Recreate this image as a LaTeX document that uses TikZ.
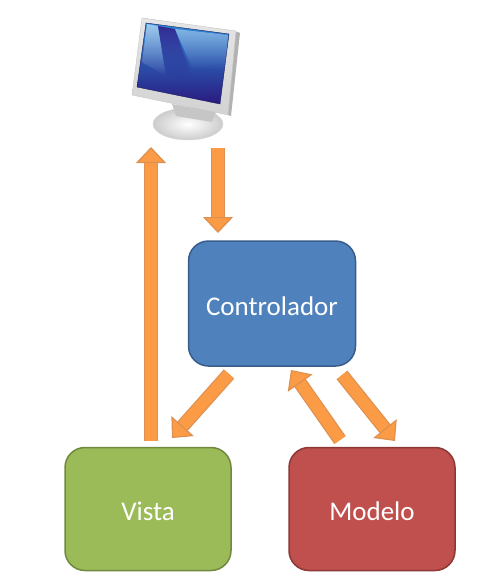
\documentclass[tikz,border=0pt]{standalone}
\usepackage{fontspec}
\setmainfont{Carlito}
\usetikzlibrary{arrows.meta,fadings}
\definecolor{arrowfill}{HTML}{FB9B45}
\definecolor{arrowline}{HTML}{DE9050}
\definecolor{screentop}{HTML}{2C8AD8}
\definecolor{screenmid}{HTML}{0F62B0}
\definecolor{screenlow}{HTML}{2A1A80}
\definecolor{screenrim}{HTML}{19195A}
\definecolor{stripe}{HTML}{35208A}
\begin{document}
\begin{tikzpicture}[
  x=1pt, y=-1pt,
  block/.style={rectangle, draw, line width=1.5pt, rounded corners=20pt, minimum width=166pt, minimum height=123pt, text=white, text height=23pt, text depth=0pt, font=\fontsize{27}{30}\selectfont},
  flow/.style={draw=arrowline, line width=1.2pt, double=arrowfill, double distance=11.5pt, -{Triangle[length=16pt,width=30pt,line width=1.2pt,fill=arrowfill]}}
]
\useasboundingbox (0,0) rectangle (480,587);
\node[block, fill={rgb,255:red,79;green,129;blue,189}, draw={rgb,255:red,56;green,93;blue,138}, minimum width=167pt, minimum height=125pt] (controlador) at (272,303.5) {Controlador};
\node[block, fill={rgb,255:red,155;green,187;blue,89}, draw={rgb,255:red,113;green,137;blue,63}] (vista) at (148,509) {Vista};
\node[block, fill={rgb,255:red,192;green,80;blue,77}, draw={rgb,255:red,140;green,56;blue,54}] (modelo) at (372,509) {Modelo};

% Monitor
\coordinate (monitor) at (151,147);
\shade[inner color=white, outer color=gray!40, draw=gray!30] (188,124) ellipse (35pt and 16pt);
\fill[gray!45] (172,104) -- (216,112) -- (212,122) -- (176,116) -- cycle;
\fill[gray!60] (142,18) -- (238,32) -- (240,33) -- (231,116) -- (228,115) -- cycle;
\shade[shading angle=10, top color=gray!20, bottom color=gray!35, draw=gray!45] (142,18) -- (236,31) -- (228,115) -- (132,95) -- cycle;
\shade[shading angle=8, top color=screentop, middle color=screenmid, bottom color=screenlow, draw=screenrim] (146,23) -- (229,34) -- (220,104) -- (137,87) -- cycle;
\fill[white, opacity=.55, path fading=south] (147,24) -- (158,26) -- (166,76) -- (142,62) -- cycle;
\fill[stripe, opacity=.9, path fading=south] (158,26) -- (175,29) -- (192,78) -- (166,76) -- cycle;
\fill[white, opacity=.4, path fading=south] (175,29) -- (228,35) -- (225,70) -- (192,68) -- cycle;

% Flow arrows
\coordinate (vistaout) at (151,441);
\coordinate (monitorout) at (218,148);
\coordinate (controlin) at (218,233);
\coordinate (controlout) at (229,374);
\coordinate (vistain) at (172,438);
\coordinate (modeloout) at (340,440);
\coordinate (controlret) at (291,370);
\coordinate (controlgo) at (342,375);
\coordinate (modeloin) at (395,441);
\draw[flow] (vistaout) -- (monitor);
\draw[flow] (monitorout) -- (controlin);
\draw[flow] (controlout) -- (vistain);
\draw[flow] (modeloout) -- (controlret);
\draw[flow] (controlgo) -- (modeloin);
\end{tikzpicture}
\end{document}
